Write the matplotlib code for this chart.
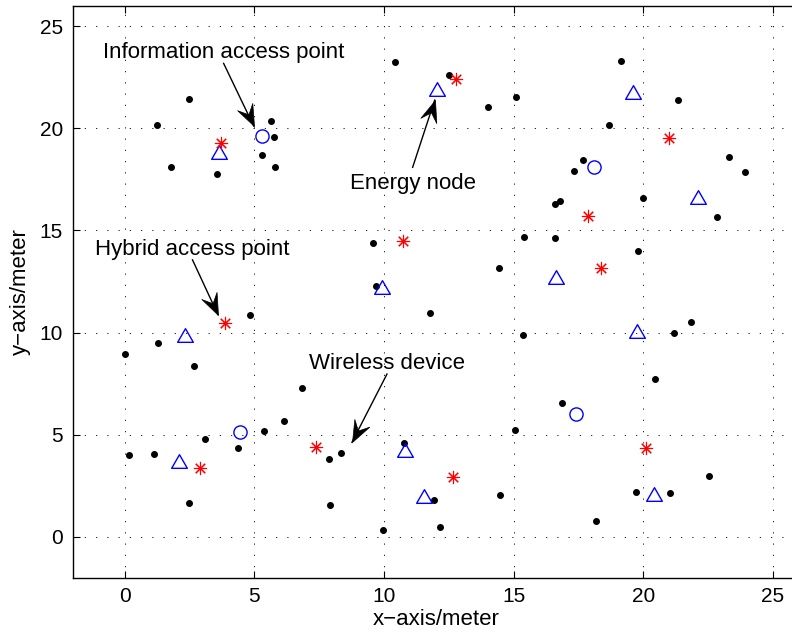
import numpy as np
import matplotlib
matplotlib.use("Agg")
import matplotlib.pyplot as plt
from matplotlib.markers import MarkerStyle
from matplotlib.path import Path
from matplotlib.transforms import Affine2D

plt.rcParams['font.family'] = ['Liberation Sans', 'DejaVu Sans']

# wireless devices (black dots)
device_x = [1.25, 2.48, 1.80, 3.55, 5.63, 5.76, 5.31, 5.81, 10.44, 12.52,
            9.58, 9.71, 14.03, 15.11, 19.16, 21.33, 18.67, 17.69, 17.32, 23.31,
            23.94, 20.00, 16.61, 16.81, 22.86, 15.40, 16.61, 19.82, 14.45, 0.02,
            1.29, 2.67, 4.82, 11.79, 6.86, 0.19, 1.15, 3.12, 4.38, 5.38,
            6.16, 7.87, 8.36, 2.48, 7.94, 9.95, 10.76, 11.94, 12.15, 15.35,
            21.19, 21.83, 20.47, 16.88, 15.07, 14.49, 18.18, 19.72, 21.02, 22.54]
device_y = [20.16, 21.45, 18.12, 17.77, 20.37, 19.59, 18.68, 18.09, 23.24, 22.59,
            14.38, 12.30, 21.06, 21.52, 23.28, 21.38, 20.16, 18.46, 17.90, 18.58,
            17.86, 16.61, 16.30, 16.44, 15.68, 14.67, 14.62, 13.97, 13.14, 8.96,
            9.49, 8.38, 10.84, 10.95, 7.29, 3.99, 4.04, 4.79, 4.37, 5.16,
            5.67, 3.83, 4.09, 1.68, 1.56, 0.32, 4.60, 1.81, 0.49, 9.88,
            9.98, 10.50, 7.72, 6.55, 5.25, 2.07, 0.80, 2.20, 2.15, 2.96]

# energy nodes (blue triangles)
energy_x = [3.63, 12.05, 9.93, 19.62, 22.11, 16.64, 2.34, 2.11, 10.83, 11.56, 19.76, 20.42]
energy_y = [18.86, 21.92, 12.25, 21.78, 16.62, 12.71, 9.86, 3.70, 4.27, 1.99, 10.10, 2.08]

# information access points (blue circles)
info_x = [5.31, 18.09, 4.45, 17.42]
info_y = [19.61, 18.09, 5.12, 6.01]

# hybrid access points (red asterisks)
hybrid_x = [3.70, 12.79, 10.72, 20.98, 17.87, 18.36, 3.86, 2.89, 7.40, 12.66, 20.12]
hybrid_y = [19.27, 22.40, 14.50, 19.54, 15.73, 13.15, 10.46, 3.36, 4.42, 2.91, 4.35]

# annotation labels: text, text anchor (left, baseline), arrow tail, arrow tip
notes = [
    ("Information access point", (-0.83, 23.42), (3.82, 23.18), (4.98, 20.11)),
    ("Energy node", (8.68, 17.02), (11.11, 18.09), (11.96, 21.38)),
    ("Hybrid access point", (-1.13, 13.80), (2.62, 13.56), (3.60, 10.88)),
    ("Wireless device", (7.13, 8.21), (10.12, 7.97), (8.77, 4.63)),
]

fig = plt.figure(figsize=(7.92, 6.39), dpi=100)
ax = fig.add_axes([0.0918, 0.0959, 0.9167, 0.8951])
ax.set_xlim(-2, 26)
ax.set_ylim(-2, 26)
ax.set_xticks(range(0, 26, 5))
ax.set_yticks(range(0, 26, 5))
ax.tick_params(direction='in', length=5, width=0.8, labelsize=15,
               top=True, right=True, pad=7)
for s in ax.spines.values():
    s.set_linewidth(1.0)
ax.grid(True, color='black', linestyle=(0, (1.5, 12)), linewidth=0.6)

tri = Path([(-1, -0.87), (1, -0.87), (0, 0.87), (-1, -0.87)],
           [Path.MOVETO, Path.LINETO, Path.LINETO, Path.CLOSEPOLY])
ax.plot(device_x, device_y, 'o', color='black', ms=4, zorder=3)
ax.plot(energy_x, energy_y, linestyle='none', marker=tri, ms=11.3,
        mfc='none', mec='blue', mew=1.0, zorder=3)
ax.plot(info_x, info_y, 'o', ms=9.5, mfc='none', mec='blue', mew=1.0, zorder=3)
ax.plot(hybrid_x, hybrid_y, linestyle='none', marker=(8, 2, 0), ms=9.5,
        mec='red', mew=0.8, zorder=3)

ax.set_xlabel("x\u2212axis/meter", fontsize=16, labelpad=2)
ax.set_ylabel("y\u2212axis/meter", fontsize=16, labelpad=6)

# concave arrow head, tip at the origin
head = Path([(0, 0), (-1, 0.39), (-0.6, 0), (-1, -0.39), (0, 0)],
            [Path.MOVETO, Path.LINETO, Path.LINETO, Path.LINETO, Path.CLOSEPOLY])
for label, tpos, tail, tip in notes:
    ax.text(tpos[0], tpos[1], label, fontsize=16, ha='left', va='baseline')
    ax.plot([tail[0], tip[0]], [tail[1], tip[1]], color='black', lw=1.0,
            zorder=4)
    p0 = ax.transData.transform(tail)
    p1 = ax.transData.transform(tip)
    ang = np.degrees(np.arctan2(p1[1] - p0[1], p1[0] - p0[0]))
    m = MarkerStyle(head, transform=Affine2D().rotate_deg(ang))
    ax.plot([tip[0]], [tip[1]], linestyle='none', marker=m, ms=31,
            mfc='black', mec='black', mew=0.5, zorder=5)

fig.savefig("out.png", dpi=100)
